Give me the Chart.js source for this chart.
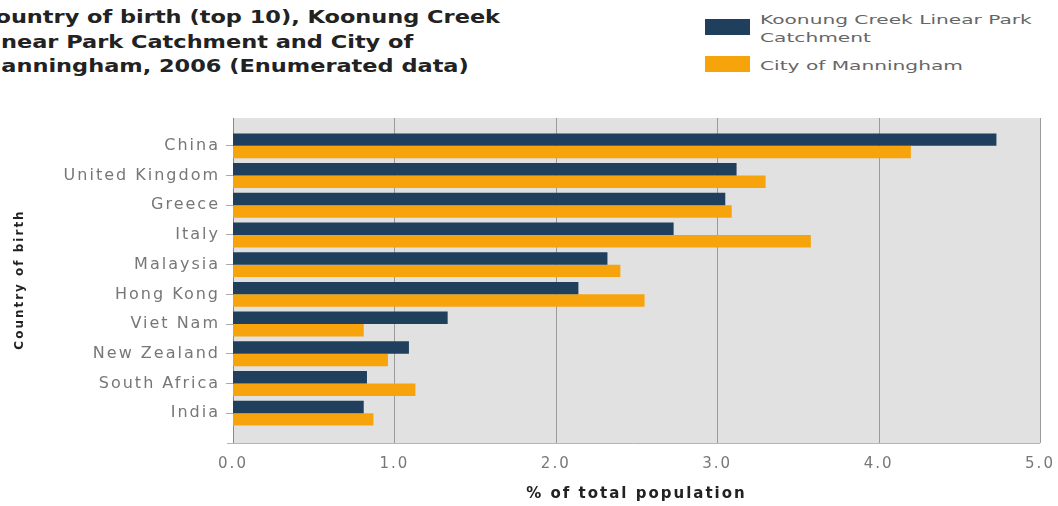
<!DOCTYPE html>
<html>
<head>
<meta charset="utf-8">
<script src="https://cdn.jsdelivr.net/npm/chart.js@4/dist/chart.umd.min.js"></script>
<style>
    body{ margin:0; background:#fff; font-family:"DejaVu Sans", Verdana, sans-serif; }
    #wrap{ position:relative; width:1058px; height:506px; overflow:hidden; }
    #title{ position:absolute; left:-21px; top:5px; font-weight:bold; font-size:17px; line-height:24.5px; color:#222;
            transform:scaleX(1.32); transform-origin:left top; white-space:nowrap; }
    #legend{ position:absolute; left:705px; top:11px; font-size:13px; color:#666; }
    .leg-item{ display:flex; align-items:flex-start; margin-bottom:6px; }
    .leg-box{ width:45px; height:16px; margin-right:10px; margin-top:8px; flex:none; }
    .leg-text{ line-height:18px; transform:scaleX(1.55); transform-origin:left top; white-space:nowrap; }
    .leg-item:last-child .leg-box{ margin-top:3px; }
    .leg-item:last-child .leg-text{ margin-top:4px; }
    canvas{ position:absolute; left:0; top:0; }
</style>
</head>
<body>
<div id="wrap">
    <div id="title">Country of birth (top 10), Koonung Creek<br>Linear Park Catchment and City of<br>Manningham, 2006 (Enumerated data)</div>
    <div id="legend"></div>
    <canvas id="birthChart" width="1058" height="506"></canvas>
</div>
<script>
const countries = ["China", "United Kingdom", "Greece", "Italy", "Malaysia", "Hong Kong", "Viet Nam", "New Zealand", "South Africa", "India"];
const koonungValues = [4.73, 3.12, 3.05, 2.73, 2.32, 2.14, 1.33, 1.09, 0.83, 0.81];
const manninghamValues = [4.20, 3.30, 3.09, 3.58, 2.40, 2.55, 0.81, 0.96, 1.13, 0.87];
const seriesNames = ["Koonung Creek Linear Park Catchment", "City of Manningham"];
const legendLines = [["Koonung Creek Linear Park", "Catchment"], ["City of Manningham"]];
const xTicks = [0, 1, 2, 3, 4, 5];

const navy = "#1f3f5c";
const orange = "#f7a30c";

// the original's lettering is wide, so space canvas text out a little
const spacingPlugin = {
    id: "spacing",
    beforeUpdate(chart){ chart.ctx.letterSpacing = "2px"; },
    beforeDraw(chart){ chart.ctx.letterSpacing = "2px"; }
};

// gray plot panel plus vertical grid lines, a bit taller than the category band
const panelPlugin = {
    id: "panel",
    beforeDatasetsDraw(chart){
        const ctx = chart.ctx;
        const area = chart.chartArea;
        const x = chart.scales.x;
        const top = area.top - 13;
        const bottom = area.bottom + 15;
        ctx.save();
        ctx.fillStyle = "#e1e1e1";
        ctx.fillRect(area.left, top, area.right - area.left, bottom - top);
        xTicks.forEach(v => {
            const px = Math.round(x.getPixelForValue(v)) + 0.5;
            ctx.strokeStyle = v === 0 ? "#8a8a8a" : "#9a9a9a";
            ctx.lineWidth = 1;
            ctx.beginPath();
            ctx.moveTo(px, top);
            ctx.lineTo(px, bottom);
            ctx.stroke();
        });
        ctx.strokeStyle = "#b5b5b5";
        ctx.beginPath();
        ctx.moveTo(area.left - 6, bottom + 0.5);
        ctx.lineTo(area.right, bottom + 0.5);
        ctx.stroke();
        ctx.restore();
    }
};

new Chart(document.getElementById("birthChart"), {
    type: "bar",
    data: {
        labels: countries,
        datasets: [
            { label: seriesNames[0], data: koonungValues, backgroundColor: navy },
            { label: seriesNames[1], data: manninghamValues, backgroundColor: orange }
        ]
    },
    options: {
        indexAxis: "y",
        responsive: false,
        animation: false,
        layout: { padding: { top: 131, right: 18, bottom: 0, left: 0 } },
        datasets: { bar: { categoryPercentage: 0.84, barPercentage: 1.0 } },
        plugins: {
            legend: { display: false },
            tooltip: { enabled: false }
        },
        scales: {
            x: {
                type: "linear",
                min: 0,
                max: 5,
                afterBuildTicks(scale){ scale.ticks = xTicks.map(v => ({ value: v })); },
                afterFit(scale){
                    scale.height = 78;
                    scale.paddingLeft = 0;
                    scale.paddingRight = 0;
                },
                grid: { display: false },
                border: { display: false },
                ticks: {
                    padding: 19,
                    color: "#777",
                    font: { family: "DejaVu Sans", size: 15 },
                    callback: v => v.toFixed(1)
                },
                title: {
                    display: true,
                    text: "% of total population",
                    color: "#222",
                    font: { family: "DejaVu Sans", size: 15, weight: "bold" },
                    padding: { top: 0, bottom: 3 }
                }
            },
            y: {
                afterFit(scale){ scale.width = 233; },
                grid: { offset: false, drawOnChartArea: false, tickLength: 7, color: "#aaa" },
                border: { display: false },
                ticks: {
                    padding: 6,
                    color: "#777",
                    font: { family: "DejaVu Sans", size: 16 }
                },
                title: {
                    display: true,
                    text: "Country of birth",
                    color: "#222",
                    font: { family: "DejaVu Sans", size: 12, weight: "bold" },
                    padding: { top: 13, bottom: 0 }
                }
            }
        }
    },
    plugins: [spacingPlugin, panelPlugin]
});

// legend with wrapping labels, like the original
const legendColors = [navy, orange];
document.getElementById("legend").innerHTML = legendLines.map((lines, i) => `
    <div class="leg-item">
        <div class="leg-box" style="background:${legendColors[i]}"></div>
        <div class="leg-text">${lines.join("<br>")}</div>
    </div>`).join("");
</script>
</body>
</html>
